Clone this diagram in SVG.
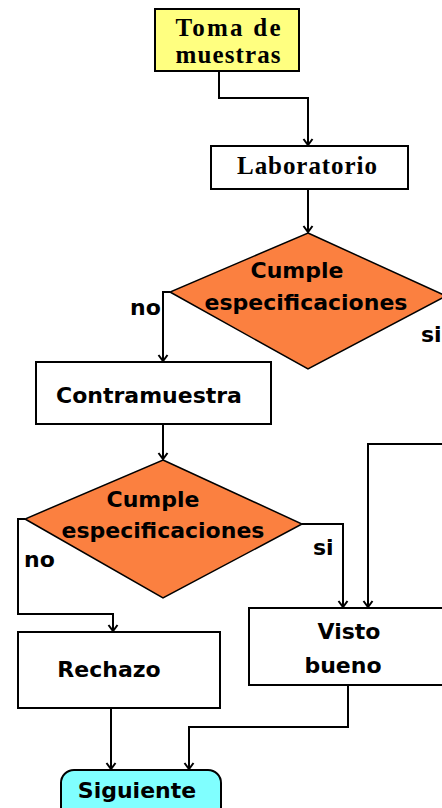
<svg xmlns="http://www.w3.org/2000/svg" width="442" height="808" viewBox="0 0 442 808">
<style>
.box{fill:#ffffff;stroke:#000;stroke-width:2}
.dia{fill:#fb8040;stroke:#000;stroke-width:1.5}
.conn{fill:none;stroke:#000;stroke-width:2}
.sans{font-family:"DejaVu Sans","Liberation Sans",sans-serif;font-weight:bold;font-size:22px;fill:#000;text-anchor:middle}
.serif{font-family:"Liberation Serif","DejaVu Serif",serif;font-weight:bold;font-size:25px;fill:#000;text-anchor:middle}
.lbl{font-family:"DejaVu Sans","Liberation Sans",sans-serif;font-weight:bold;font-size:22px;fill:#000}
</style>
<defs>
<marker id="arr" markerUnits="userSpaceOnUse" viewBox="-8 -6 10 12" refX="0" refY="0" markerWidth="10" markerHeight="12" orient="auto" overflow="visible">
<path d="M-6,-4.5 L0,0 L-6,4.5" fill="none" stroke="#000" stroke-width="2"/>
</marker>
</defs>
<rect width="442" height="808" fill="#fff"/>
<g id="connectors">
<path class="conn" d="M219,71 V98 H308 V145" marker-end="url(#arr)"/>
<path class="conn" d="M308,189 V232" marker-end="url(#arr)"/>
<path class="conn" d="M170,292 H163 V361" marker-end="url(#arr)"/>
<path class="conn" d="M163,424 V459" marker-end="url(#arr)"/>
<path class="conn" d="M25,519 H18 V614 H113 V631" marker-end="url(#arr)"/>
<path class="conn" d="M302,524 H343 V607" marker-end="url(#arr)"/>
<path class="conn" d="M450,444 H368 V607" marker-end="url(#arr)"/>
<path class="conn" d="M111,708 V769" marker-end="url(#arr)"/>
<path class="conn" d="M348,685 V727 H189 V769" marker-end="url(#arr)"/>
</g>
<g id="toma">
<rect x="155" y="9" width="144" height="62" fill="#ffff80" stroke="#000" stroke-width="2"/>
<text class="serif" x="228" y="36" textLength="105" lengthAdjust="spacing">Toma de</text>
<text class="serif" x="228" y="63" textLength="105" lengthAdjust="spacing">muestras</text>
</g>
<g id="laboratorio">
<rect class="box" x="211" y="146" width="197" height="43"/>
<text class="serif" x="307" y="174" textLength="140" lengthAdjust="spacing">Laboratorio</text>
</g>
<g id="decision1">
<polygon class="dia" points="308,233 446,296 308,369 170,292"/>
<text class="sans" x="297" y="278">Cumple</text>
<text class="sans" x="306" y="310">especificaciones</text>
<text class="lbl" x="130" y="315">no</text>
<text class="lbl" x="421" y="342">si</text>
</g>
<g id="contramuestra">
<rect class="box" x="36" y="362" width="235" height="62"/>
<text class="sans" x="149" y="403">Contramuestra</text>
</g>
<g id="decision2">
<polygon class="dia" points="163,460 302,524 163,598 25,519"/>
<text class="sans" x="153" y="507">Cumple</text>
<text class="sans" x="163" y="538">especificaciones</text>
<text class="lbl" x="24" y="567">no</text>
<text class="lbl" x="313" y="555">si</text>
</g>
<g id="rechazo">
<rect class="box" x="18" y="632" width="202" height="76"/>
<text class="sans" x="109" y="677">Rechazo</text>
</g>
<g id="vistobueno">
<rect class="box" x="249" y="608" width="200" height="77"/>
<text class="sans" x="349" y="639">Visto</text>
<text class="sans" x="343" y="673">bueno</text>
</g>
<g id="siguiente">
<rect x="61" y="770" width="160" height="50" rx="13" fill="#80ffff" stroke="#000" stroke-width="2"/>
<text class="sans" x="137" y="798">Siguiente</text>
</g>
</svg>
